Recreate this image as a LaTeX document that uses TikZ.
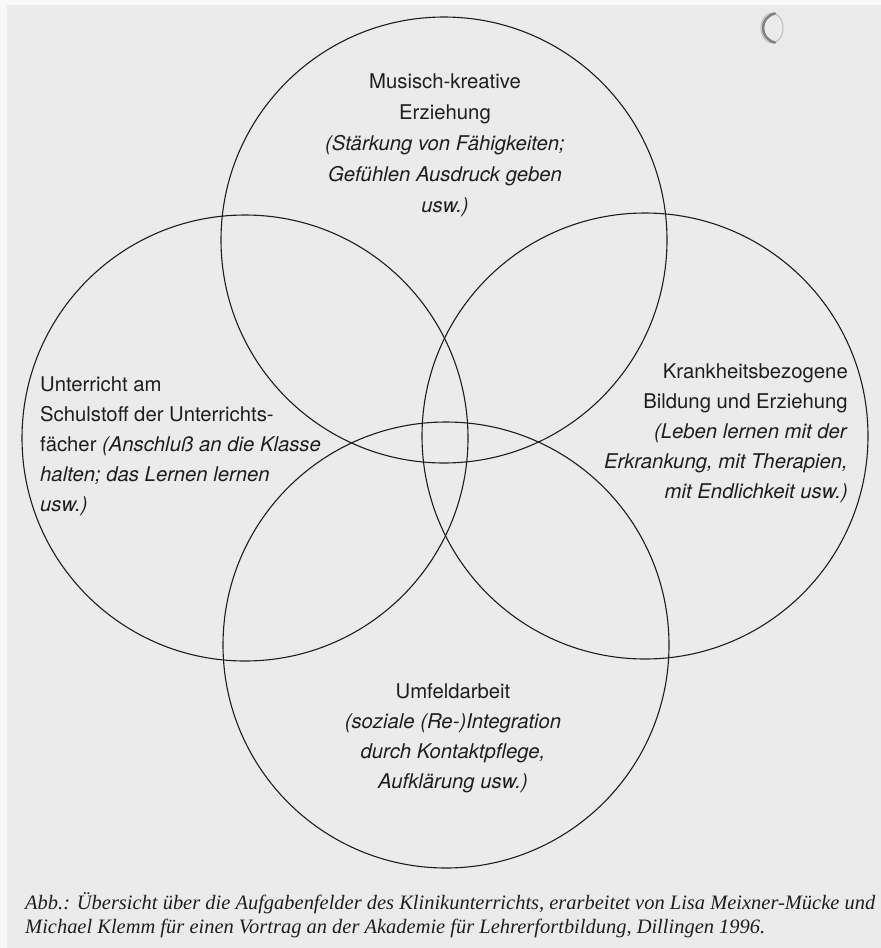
\documentclass[tikz,border=0pt]{standalone}
\usepackage{fontspec}
\setmainfont{TeX Gyre Heros}
\newfontfamily\capfont{Liberation Serif}
\definecolor{paper}{RGB}{235,235,235}
\definecolor{margin}{RGB}{248,248,248}
\definecolor{ink}{RGB}{30,30,30}
\newlength\capw
\begin{document}
% caption size chosen so that the first line spans 850pt
\settowidth\capw{\capfont\itshape\fontsize{10}{12}\selectfont Abb.: Übersicht über die Aufgabenfelder des Klinikunterrichts, erarbeitet von Lisa Meixner-Mücke und}
\pgfmathsetmacro\capsize{10*850/\capw}
\begin{tikzpicture}[x=1pt,y=-1pt,
  ring/.style={draw=ink, line width=1.1pt},
  fieldtext/.style={text=ink, inner sep=0pt, font=\fontsize{20.3}{30}\selectfont},
  captext/.style={text=ink, inner sep=0pt, anchor=west, align=left,
    font=\capfont\itshape\fontsize{\capsize}{24}\selectfont}]
\fill[margin] (0,0) rectangle (881,948);
\fill[paper] (7,5) rectangle (881,948);
\useasboundingbox (0,0) rectangle (881,948);

% punched-hole shadow
\draw[black!30, line width=0.8pt] (772,28) ellipse[x radius=11, y radius=15];
\draw[black!50, line width=2.5pt, line cap=round] (775,13.5) .. controls (759,17) and (759,39) .. (775,42.5);

% the four overlapping fields
\coordinate (cTop) at (444,240);
\coordinate (cLeft) at (245,438);
\coordinate (cRight) at (645,436);
\coordinate (cBottom) at (446,645);
\draw[ring] (cTop) circle[radius=223];
\draw[ring] (cLeft) circle[radius=223];
\draw[ring] (cRight) circle[radius=223];
\draw[ring] (cBottom) circle[radius=223];

\node[fieldtext, align=center, font=\fontsize{20.3}{31}\selectfont] (musisch) at (445,145)
  {Musisch-kreative\\Erziehung\\\textit{(Stärkung von Fähigkeiten;}\\\textit{Gefühlen Ausdruck geben}\\\textit{usw.)}};

\node[fieldtext, align=left, anchor=west] (unterricht) at (40,446)
  {Unterricht am\\Schulstoff der Unterrichts-\\fächer \textit{(Anschluß an die Klasse}\\\textit{halten; das Lernen lernen}\\\textit{usw.)}};

\node[fieldtext, align=right, anchor=east] (krankheit) at (848,433)
  {Krankheitsbezogene\\Bildung und Erziehung\\\textit{(Leben lernen mit der}\\\textit{Erkrankung, mit Therapien,}\\\textit{mit Endlichkeit usw.)}};

\node[fieldtext, align=center] (umfeld) at (453,738)
  {Umfeldarbeit\\\textit{(soziale (Re-)Integration}\\\textit{durch Kontaktpflege,}\\\textit{Aufklärung usw.)}};

% caption
\node[captext] (caption) at (25,915)
  {Abb.: Übersicht über die Aufgabenfelder des Klinikunterrichts, erarbeitet von Lisa Meixner-Mücke und\\Michael Klemm für einen Vortrag an der Akademie für Lehrerfortbildung, Dillingen 1996.};
\end{tikzpicture}
\end{document}
